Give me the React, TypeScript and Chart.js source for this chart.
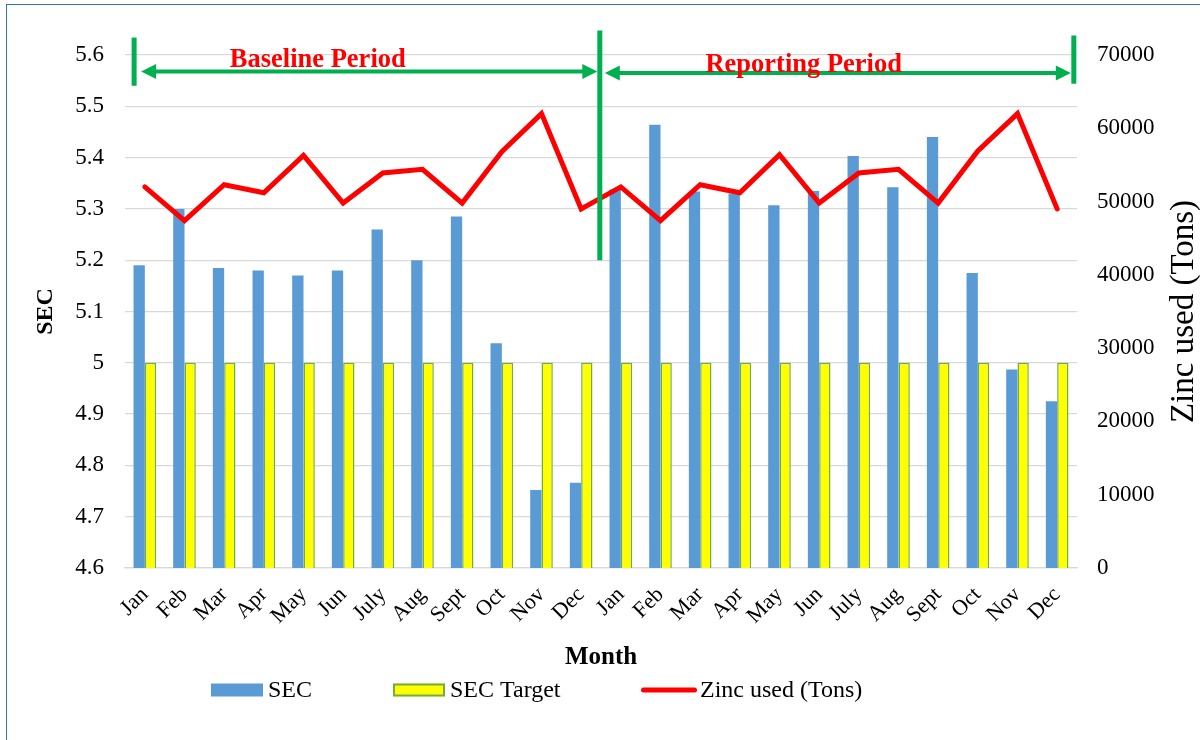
import React, { useEffect, useRef } from "react";
import { Chart, registerables } from "chart.js";

Chart.register(...registerables);

const months = [
  "Jan", "Feb", "Mar", "Apr", "May", "Jun", "July", "Aug", "Sept", "Oct", "Nov", "Dec",
  "Jan", "Feb", "Mar", "Apr", "May", "Jun", "July", "Aug", "Sept", "Oct", "Nov", "Dec",
];

const secValues = [
  5.19, 5.3, 5.185, 5.18, 5.17, 5.18, 5.26, 5.2, 5.285, 5.038, 4.752, 4.766,
  5.338, 5.464, 5.334, 5.33, 5.307, 5.335, 5.403, 5.342, 5.44, 5.175, 4.987, 4.925,
];

const secTarget = [
  5, 5, 5, 5, 5, 5, 5, 5, 5, 5, 5, 5,
  5, 5, 5, 5, 5, 5, 5, 5, 5, 5, 5, 5,
];

const zincUsed = [
  52000, 47400, 52300, 51200, 56300, 49800, 53900, 54400, 49800, 56800, 62000, 49000,
  52000, 47400, 52300, 51200, 56400, 49800, 53900, 54400, 49800, 56900, 62000, 49000,
];

const seriesNames = ["SEC", "SEC Target", "Zinc used (Tons)"];
const periodLabels = ["Baseline Period", "Reporting Period"];
const secAxisTitle = "SEC";
const zincAxisTitle = "Zinc used (Tons)";
const monthAxisTitle = "Month";

const FONT = "'Liberation Serif', 'Times New Roman', serif";

const periodPlugin = {
  id: "periodAnnotations",
  afterDraw(chart: any) {
    const { ctx, chartArea } = chart;
    const x = chart.scales.x;
    const y = chart.scales.y;
    const step = x.getPixelForValue(1) - x.getPixelForValue(0);
    const px = (v: number) => x.getPixelForValue(0) + v * step;
    const py = (v: number) => y.getPixelForValue(v);
    const green = "#00B050";
    ctx.save();
    const markers: number[][] = [
      [-0.27, 5.634, 5.54],
      [11.47, 5.648, 5.2],
      [23.42, 5.638, 5.544],
    ];
    ctx.strokeStyle = green;
    ctx.fillStyle = green;
    ctx.lineCap = "butt";
    ctx.lineWidth = 5;
    markers.forEach(([m, a, b]) => {
      ctx.beginPath();
      ctx.moveTo(px(m), py(a));
      ctx.lineTo(px(m), py(b));
      ctx.stroke();
    });
    const drawArrow = (x1: number, x2: number, yy: number) => {
      ctx.lineWidth = 4;
      ctx.beginPath();
      ctx.moveTo(x1 + 8, yy);
      ctx.lineTo(x2 - 8, yy);
      ctx.stroke();
      [
        [x1, 1],
        [x2, -1],
      ].forEach(([tx, d]) => {
        ctx.beginPath();
        ctx.moveTo(tx, yy);
        ctx.lineTo(tx + d * 15, yy - 7.5);
        ctx.lineTo(tx + d * 15, yy + 7.5);
        ctx.closePath();
        ctx.fill();
      });
    };
    drawArrow(px(-0.27) + 7, px(11.47) - 2.5, py(5.568));
    drawArrow(px(11.47) + 5, px(23.42) - 3, py(5.565));
    ctx.fillStyle = "#FF0000";
    ctx.font = `bold 26.5px ${FONT}`;
    ctx.textAlign = "center";
    ctx.textBaseline = "alphabetic";
    ctx.fillText(periodLabels[0], px(4.36), py(5.5774));
    ctx.fillText(periodLabels[1], px(16.61), py(5.5676));

    // secondary axis title, rotated to read bottom-to-top
    ctx.save();
    ctx.translate(chart.width - 16, (chartArea.top + chartArea.bottom) / 2);
    ctx.rotate(-Math.PI / 2);
    ctx.fillStyle = "#000";
    ctx.font = `33px ${FONT}`;
    ctx.textAlign = "center";
    ctx.textBaseline = "middle";
    ctx.fillText(zincAxisTitle, 0, 0);
    ctx.restore();

    // legend
    ctx.font = `24px ${FONT}`;
    ctx.textAlign = "left";
    ctx.textBaseline = "middle";
    const itemX = [211, 393, 641];
    const cy = chartArea.bottom + 122;
    chart.data.datasets.forEach((ds: any, i: number) => {
      const cx = itemX[i];
      if (ds.type === "line") {
        ctx.strokeStyle = ds.borderColor;
        ctx.lineWidth = ds.borderWidth;
        ctx.lineCap = "round";
        ctx.beginPath();
        ctx.moveTo(cx + 2.5, cy);
        ctx.lineTo(cx + 53.5, cy);
        ctx.stroke();
        ctx.fillStyle = "#000";
        ctx.fillText(ds.label, cx + 59, cy + 1);
      } else {
        ctx.fillStyle = ds.backgroundColor;
        ctx.fillRect(cx, cy - 6.5, 52, 13);
        if (ds.borderWidth) {
          ctx.strokeStyle = ds.borderColor;
          ctx.lineWidth = 2;
          ctx.strokeRect(cx + 1, cy - 5.5, 50, 11);
        }
        ctx.fillStyle = "#000";
        ctx.fillText(ds.label, cx + 57, cy + 1);
      }
    });
    ctx.restore();
  },
};

export default function App() {
  const canvasRef = useRef<HTMLCanvasElement | null>(null);

  useEffect(() => {
    if (!canvasRef.current) return;
    Chart.defaults.font.family = FONT;
    Chart.defaults.color = "#000";
    const chart = new Chart(canvasRef.current, {
      data: {
        labels: months,
        datasets: [
          {
            type: "bar",
            label: seriesNames[0],
            data: secValues,
            yAxisID: "y",
            backgroundColor: "#5B9BD5",
            borderWidth: 0,
            categoryPercentage: 0.57,
            barPercentage: 1,
            order: 1,
          },
          {
            type: "bar",
            label: seriesNames[1],
            data: secTarget,
            yAxisID: "y",
            backgroundColor: "#FFFF00",
            borderColor: "#70AD47",
            borderWidth: 1.5,
            categoryPercentage: 0.57,
            barPercentage: 1,
            order: 1,
          },
          {
            type: "line",
            label: seriesNames[2],
            data: zincUsed,
            yAxisID: "y1",
            borderColor: "#FF0000",
            backgroundColor: "#FF0000",
            borderWidth: 5,
            borderCapStyle: "round",
            borderJoinStyle: "miter",
            pointRadius: 0,
            tension: 0,
            fill: false,
            order: 0,
          },
        ],
      } as any,
      options: {
        animation: false,
        responsive: false,
        devicePixelRatio: 1,
        layout: { padding: { top: 55, left: 0, right: 0, bottom: 67 } },
        plugins: {
          tooltip: { enabled: false },
          legend: { display: false },
        },
        scales: {
          x: {
            grid: { display: false },
            border: { display: true, color: "#D9D9D9", width: 1.3 },
            ticks: {
              autoSkip: false,
              minRotation: 45,
              maxRotation: 45,
              padding: 6,
              color: "#000",
              font: { size: 22, family: FONT },
            },
            title: {
              display: true,
              text: monthAxisTitle,
              color: "#000",
              font: { size: 25, weight: "bold", family: FONT },
              padding: { top: 0, bottom: 0 },
            },
            afterFit: (s: any) => {
              s.height = 105;
            },
          },
          y: {
            position: "left",
            min: 4.6,
            max: 5.6,
            ticks: {
              stepSize: 0.1,
              padding: 21,
              color: "#000",
              font: { size: 23, family: FONT },
              callback: (v: any) => String(Math.round(Number(v) * 10) / 10),
            },
            grid: { color: "#D9D9D9", lineWidth: 1.3, drawTicks: false },
            border: { display: false },
            title: {
              display: true,
              text: secAxisTitle,
              color: "#000",
              font: { size: 24, weight: "bold", family: FONT },
              padding: { top: 31, bottom: 0 },
            },
            afterFit: (s: any) => {
              s.width = 125;
            },
          },
          y1: {
            position: "right",
            min: 0,
            max: 70000,
            ticks: {
              stepSize: 10000,
              padding: 20,
              color: "#000",
              font: { size: 23, family: FONT },
              callback: (v: any) => String(v),
            },
            grid: { display: false, drawTicks: false },
            border: { display: false },
            title: { display: false, text: zincAxisTitle },
            afterFit: (s: any) => {
              s.width = 123;
            },
          },
        },
      } as any,
      plugins: [periodPlugin],
    });
    return () => chart.destroy();
  }, []);

  return (
    <div style={{ position: "absolute", left: 0, top: 0, width: 1200, height: 740, background: "#fff" }}>
      <canvas ref={canvasRef} width={1200} height={740} style={{ display: "block" }} />
      <div
        style={{
          position: "absolute",
          left: 6,
          top: 4,
          width: 1194,
          height: 736,
          borderLeft: "1.5px solid #2E75B6",
          borderTop: "1.5px solid #2E75B6",
          pointerEvents: "none",
        }}
      />
    </div>
  );
}
